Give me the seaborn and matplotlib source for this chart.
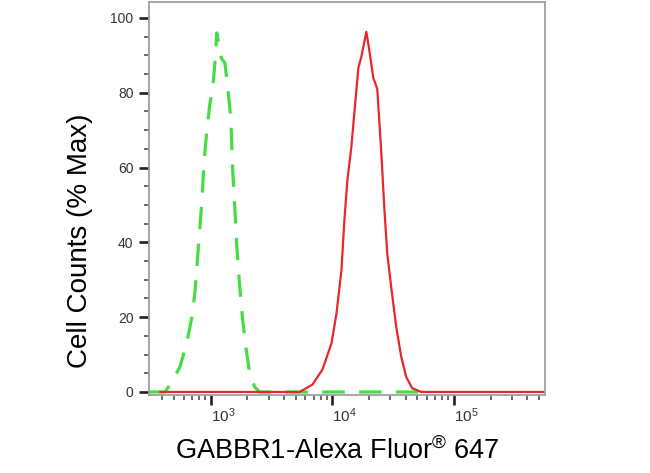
import numpy as np
import pandas as pd
import matplotlib
matplotlib.use("Agg")
import matplotlib.pyplot as plt
import seaborn as sns
from matplotlib.ticker import LogLocator, MultipleLocator, NullFormatter

# ---------------------------------------------------------------------
# Data (x = fluorescence, y = % of max)
# ---------------------------------------------------------------------
control_x = [316, 420, 479, 557, 636, 698, 739, 782, 844, 877, 927, 981, 1038,
             1079, 1120, 1185, 1231, 1303, 1378, 1459, 1514, 1573, 1633, 1729,
             1829, 1972, 2089, 2296, 2522, 51600]
control_y = [0, 0, 2.7, 6.7, 13.4, 20, 26.5, 37, 51, 61, 70, 77, 81.5,
             88, 96, 91.5, 89, 88, 81.5, 73, 59, 49.5, 39, 28,
             19, 10.4, 5, 1.3, 0, 0]

gabbr1_x = [382, 5370, 6860, 8280, 9820, 10800, 11860, 12540, 13280, 14310,
            15140, 16330, 17290, 19000, 20100, 21680, 23380, 25230, 26680,
            28240, 30460, 33460, 36790, 40460, 45300, 53700, 547000]
gabbr1_y = [0, 0, 2, 6, 13, 21, 32.6, 46, 56.7, 65.5,
            74.6, 86.6, 89.6, 96.3, 91.4, 84, 81, 64, 49.5,
            37, 28, 17.4, 9.4, 4, 1, 0, 0]

y_ticks = [0, 20, 40, 60, 80, 100]
x_ticks = [1e3, 1e4, 1e5]
x_tick_labels = ["$\\mathregular{10^{3}}$", "$\\mathregular{10^{4}}$", "$\\mathregular{10^{5}}$"]


def main():
    sns.set_style("ticks")
    plt.rcParams["font.family"] = ["Liberation Sans", "DejaVu Sans"]
    plt.rcParams["mathtext.fontset"] = "custom"
    plt.rcParams["mathtext.rm"] = "Liberation Sans"
    plt.rcParams["mathtext.it"] = "Liberation Sans:italic"

    fig = plt.figure(figsize=(6.5, 4.73), dpi=100)
    ax = fig.add_axes([0.229, 0.165, 0.609, 0.831])
    ax.set_xscale("log")

    ctrl = pd.DataFrame({"x": control_x, "y": control_y})
    gab = pd.DataFrame({"x": gabbr1_x, "y": gabbr1_y})

    sns.lineplot(data=ctrl, x="x", y="y", ax=ax, color="#44dd44", lw=2.3,
                 linestyle=(0, (7, 4.5)), estimator=None)
    sns.lineplot(data=gab, x="x", y="y", ax=ax, color="#e8262c", lw=1.6,
                 estimator=None)

    ax.set_xlim(309, 557000)
    ax.set_ylim(-0.8, 104.3)

    # axis ticks
    ax.set_yticks(y_ticks)
    ax.set_yticklabels([str(v) for v in y_ticks])
    ax.yaxis.set_minor_locator(MultipleLocator(5))
    ax.set_xticks(x_ticks)
    ax.set_xticklabels(x_tick_labels, ha="left")
    ax.xaxis.set_minor_locator(LogLocator(base=10, subs=range(2, 10)))
    ax.xaxis.set_minor_formatter(NullFormatter())

    ax.tick_params(which="major", length=7, width=1.9, color="#222222",
                   labelsize=10, labelcolor="#333333")
    ax.tick_params(axis="y", which="major", pad=4)
    ax.tick_params(axis="x", which="major", pad=1, labelsize=11)
    ax.tick_params(which="minor", length=3.6, width=1.1, color="#444444")

    for side in ["left", "right", "top", "bottom"]:
        ax.spines[side].set_color("#a0a0a0")
        ax.spines[side].set_linewidth(1.3)

    ax.set_xlabel("GABBR1-Alexa Fluor$^{\\mathregular{®}}$ 647", fontsize=19.5, color="black")
    ax.set_ylabel("Cell Counts (% Max)", fontsize=20, color="black")
    ax.xaxis.set_label_coords(0.475, -0.105)
    ax.yaxis.set_label_coords(-0.142, 0.393)

    fig.savefig("out.png", dpi=100)
    plt.close(fig)


if __name__ == "__main__":
    main()
